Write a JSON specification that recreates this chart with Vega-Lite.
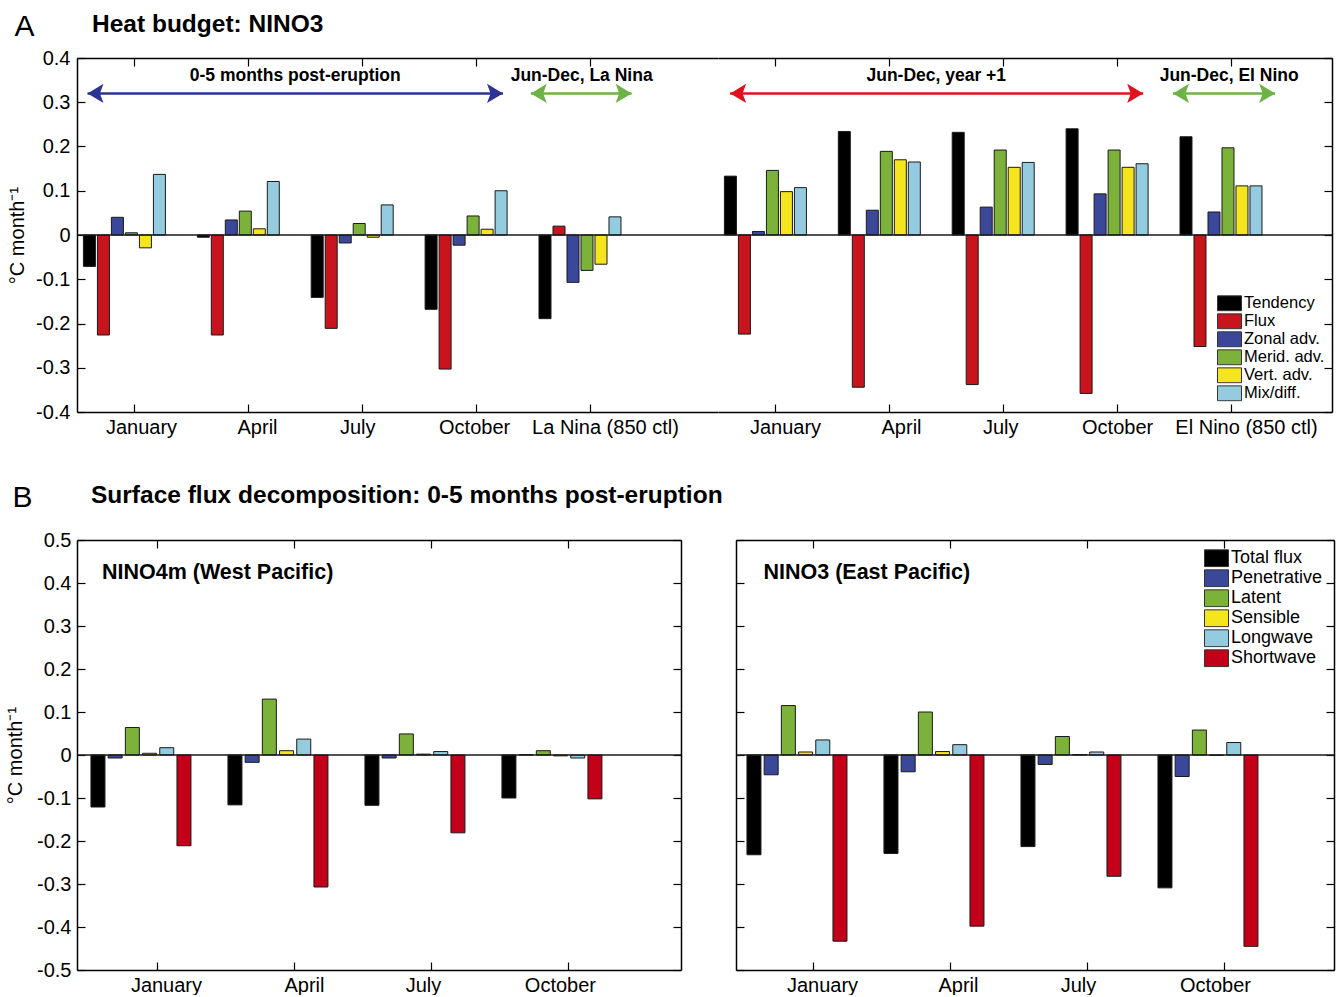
{
  "$schema": "https://vega.github.io/schema/vega-lite/v6.json",
  "background": "white",
  "padding": {"left": 5, "top": 11, "right": 5, "bottom": 0},
  "config": {
    "font": "Liberation Sans",
    "view": {"stroke": null},
    "axis": {
      "labelFont": "Liberation Sans", "labelFontSize": 20, "labelColor": "#000",
      "domainColor": "#000", "domainWidth": 1.5, "tickColor": "#000", "tickWidth": 1.2,
      "tickSize": -8, "labelPadding": 13, "grid": false, "minExtent": 0,
      "titleFont": "Liberation Sans", "titleFontSize": 20, "titleFontWeight": "normal", "titleColor": "#000",
      "labelAngle": 0, "labelOverlap": false
    },
    "title": {"font": "Liberation Sans", "color": "#000"},
    "legend": {"labelFont": "Liberation Sans", "labelColor": "#000", "padding": 0}
  },
  "datasets": {
    "heat": [
      {"period": "post", "month": "January", "term": "Tendency", "value": -0.071},
      {"period": "post", "month": "January", "term": "Flux", "value": -0.226},
      {"period": "post", "month": "January", "term": "Zonal adv.", "value": 0.040},
      {"period": "post", "month": "January", "term": "Merid. adv.", "value": 0.005},
      {"period": "post", "month": "January", "term": "Vert. adv.", "value": -0.029},
      {"period": "post", "month": "January", "term": "Mix/diff.", "value": 0.137},
      {"period": "post", "month": "April", "term": "Tendency", "value": -0.005},
      {"period": "post", "month": "April", "term": "Flux", "value": -0.226},
      {"period": "post", "month": "April", "term": "Zonal adv.", "value": 0.034},
      {"period": "post", "month": "April", "term": "Merid. adv.", "value": 0.054},
      {"period": "post", "month": "April", "term": "Vert. adv.", "value": 0.014},
      {"period": "post", "month": "April", "term": "Mix/diff.", "value": 0.121},
      {"period": "post", "month": "July", "term": "Tendency", "value": -0.141},
      {"period": "post", "month": "July", "term": "Flux", "value": -0.211},
      {"period": "post", "month": "July", "term": "Zonal adv.", "value": -0.018},
      {"period": "post", "month": "July", "term": "Merid. adv.", "value": 0.026},
      {"period": "post", "month": "July", "term": "Vert. adv.", "value": -0.005},
      {"period": "post", "month": "July", "term": "Mix/diff.", "value": 0.068},
      {"period": "post", "month": "October", "term": "Tendency", "value": -0.168},
      {"period": "post", "month": "October", "term": "Flux", "value": -0.303},
      {"period": "post", "month": "October", "term": "Zonal adv.", "value": -0.023},
      {"period": "post", "month": "October", "term": "Merid. adv.", "value": 0.043},
      {"period": "post", "month": "October", "term": "Vert. adv.", "value": 0.013},
      {"period": "post", "month": "October", "term": "Mix/diff.", "value": 0.100},
      {"period": "post", "month": "La Nina (850 ctl)", "term": "Tendency", "value": -0.189},
      {"period": "post", "month": "La Nina (850 ctl)", "term": "Flux", "value": 0.020},
      {"period": "post", "month": "La Nina (850 ctl)", "term": "Zonal adv.", "value": -0.107},
      {"period": "post", "month": "La Nina (850 ctl)", "term": "Merid. adv.", "value": -0.080},
      {"period": "post", "month": "La Nina (850 ctl)", "term": "Vert. adv.", "value": -0.066},
      {"period": "post", "month": "La Nina (850 ctl)", "term": "Mix/diff.", "value": 0.041},
      {"period": "year1", "month": "January", "term": "Tendency", "value": 0.133},
      {"period": "year1", "month": "January", "term": "Flux", "value": -0.224},
      {"period": "year1", "month": "January", "term": "Zonal adv.", "value": 0.008},
      {"period": "year1", "month": "January", "term": "Merid. adv.", "value": 0.146},
      {"period": "year1", "month": "January", "term": "Vert. adv.", "value": 0.098},
      {"period": "year1", "month": "January", "term": "Mix/diff.", "value": 0.107},
      {"period": "year1", "month": "April", "term": "Tendency", "value": 0.234},
      {"period": "year1", "month": "April", "term": "Flux", "value": -0.344},
      {"period": "year1", "month": "April", "term": "Zonal adv.", "value": 0.056},
      {"period": "year1", "month": "April", "term": "Merid. adv.", "value": 0.189},
      {"period": "year1", "month": "April", "term": "Vert. adv.", "value": 0.170},
      {"period": "year1", "month": "April", "term": "Mix/diff.", "value": 0.165},
      {"period": "year1", "month": "July", "term": "Tendency", "value": 0.232},
      {"period": "year1", "month": "July", "term": "Flux", "value": -0.338},
      {"period": "year1", "month": "July", "term": "Zonal adv.", "value": 0.063},
      {"period": "year1", "month": "July", "term": "Merid. adv.", "value": 0.192},
      {"period": "year1", "month": "July", "term": "Vert. adv.", "value": 0.153},
      {"period": "year1", "month": "July", "term": "Mix/diff.", "value": 0.164},
      {"period": "year1", "month": "October", "term": "Tendency", "value": 0.240},
      {"period": "year1", "month": "October", "term": "Flux", "value": -0.358},
      {"period": "year1", "month": "October", "term": "Zonal adv.", "value": 0.093},
      {"period": "year1", "month": "October", "term": "Merid. adv.", "value": 0.192},
      {"period": "year1", "month": "October", "term": "Vert. adv.", "value": 0.153},
      {"period": "year1", "month": "October", "term": "Mix/diff.", "value": 0.161},
      {"period": "year1", "month": "El Nino (850 ctl)", "term": "Tendency", "value": 0.222},
      {"period": "year1", "month": "El Nino (850 ctl)", "term": "Flux", "value": -0.252},
      {"period": "year1", "month": "El Nino (850 ctl)", "term": "Zonal adv.", "value": 0.052},
      {"period": "year1", "month": "El Nino (850 ctl)", "term": "Merid. adv.", "value": 0.197},
      {"period": "year1", "month": "El Nino (850 ctl)", "term": "Vert. adv.", "value": 0.111},
      {"period": "year1", "month": "El Nino (850 ctl)", "term": "Mix/diff.", "value": 0.111}
    ],
    "flux": [
      {"region": "west", "month": "January", "comp": "Total flux", "value": -0.121},
      {"region": "west", "month": "January", "comp": "Penetrative", "value": -0.007},
      {"region": "west", "month": "January", "comp": "Latent", "value": 0.064},
      {"region": "west", "month": "January", "comp": "Sensible", "value": 0.004},
      {"region": "west", "month": "January", "comp": "Longwave", "value": 0.017},
      {"region": "west", "month": "January", "comp": "Shortwave", "value": -0.211},
      {"region": "west", "month": "April", "comp": "Total flux", "value": -0.116},
      {"region": "west", "month": "April", "comp": "Penetrative", "value": -0.017},
      {"region": "west", "month": "April", "comp": "Latent", "value": 0.130},
      {"region": "west", "month": "April", "comp": "Sensible", "value": 0.010},
      {"region": "west", "month": "April", "comp": "Longwave", "value": 0.037},
      {"region": "west", "month": "April", "comp": "Shortwave", "value": -0.307},
      {"region": "west", "month": "July", "comp": "Total flux", "value": -0.117},
      {"region": "west", "month": "July", "comp": "Penetrative", "value": -0.007},
      {"region": "west", "month": "July", "comp": "Latent", "value": 0.049},
      {"region": "west", "month": "July", "comp": "Sensible", "value": 0.002},
      {"region": "west", "month": "July", "comp": "Longwave", "value": 0.008},
      {"region": "west", "month": "July", "comp": "Shortwave", "value": -0.181},
      {"region": "west", "month": "October", "comp": "Total flux", "value": -0.100},
      {"region": "west", "month": "October", "comp": "Penetrative", "value": 0.001},
      {"region": "west", "month": "October", "comp": "Latent", "value": 0.010},
      {"region": "west", "month": "October", "comp": "Sensible", "value": -0.002},
      {"region": "west", "month": "October", "comp": "Longwave", "value": -0.007},
      {"region": "west", "month": "October", "comp": "Shortwave", "value": -0.102},
      {"region": "east", "month": "January", "comp": "Total flux", "value": -0.232},
      {"region": "east", "month": "January", "comp": "Penetrative", "value": -0.046},
      {"region": "east", "month": "January", "comp": "Latent", "value": 0.115},
      {"region": "east", "month": "January", "comp": "Sensible", "value": 0.007},
      {"region": "east", "month": "January", "comp": "Longwave", "value": 0.035},
      {"region": "east", "month": "January", "comp": "Shortwave", "value": -0.433},
      {"region": "east", "month": "April", "comp": "Total flux", "value": -0.229},
      {"region": "east", "month": "April", "comp": "Penetrative", "value": -0.039},
      {"region": "east", "month": "April", "comp": "Latent", "value": 0.100},
      {"region": "east", "month": "April", "comp": "Sensible", "value": 0.008},
      {"region": "east", "month": "April", "comp": "Longwave", "value": 0.024},
      {"region": "east", "month": "April", "comp": "Shortwave", "value": -0.398},
      {"region": "east", "month": "July", "comp": "Total flux", "value": -0.213},
      {"region": "east", "month": "July", "comp": "Penetrative", "value": -0.022},
      {"region": "east", "month": "July", "comp": "Latent", "value": 0.043},
      {"region": "east", "month": "July", "comp": "Sensible", "value": 0.001},
      {"region": "east", "month": "July", "comp": "Longwave", "value": 0.007},
      {"region": "east", "month": "July", "comp": "Shortwave", "value": -0.282},
      {"region": "east", "month": "October", "comp": "Total flux", "value": -0.309},
      {"region": "east", "month": "October", "comp": "Penetrative", "value": -0.050},
      {"region": "east", "month": "October", "comp": "Latent", "value": 0.058},
      {"region": "east", "month": "October", "comp": "Sensible", "value": -0.001},
      {"region": "east", "month": "October", "comp": "Longwave", "value": 0.029},
      {"region": "east", "month": "October", "comp": "Shortwave", "value": -0.445}
    ],
    "arrows": [
      {"side": "left", "name": "post", "from": "January", "to": "October"},
      {"side": "left", "name": "lanina", "from": "La Nina (850 ctl)", "to": "La Nina (850 ctl)"},
      {"side": "right", "name": "year1", "from": "January", "to": "October"},
      {"side": "right", "name": "elnino", "from": "El Nino (850 ctl)", "to": "El Nino (850 ctl)"}
    ]
  },
  "spacing": 45,
  "resolve": {"scale": {"x": "independent", "y": "independent", "color": "independent", "stroke": "independent", "fill": "independent", "xOffset": "independent"}, "legend": {"color": "independent"}},
  "vconcat": [
    {
      "title": {"text": "A", "orient": "left", "anchor": "end", "frame": "bounds", "angle": 0, "align": "left", "baseline": "top", "fontSize": 30, "fontWeight": "normal", "offset": -27},
      "bounds": "flush",
      "spacing": 0,
      "resolve": {"scale": {"x": "independent", "y": "independent", "color": "independent", "stroke": "independent", "fill": "independent", "xOffset": "independent"}, "legend": {"color": "independent"}},
      "hconcat": [
        {
          "width": 641, "height": 354,
          "title": {"text": "Heat budget: NINO3", "anchor": "start", "frame": "group", "fontSize": 24.5, "fontWeight": "bold", "baseline": "alphabetic", "offset": -8, "dx": 15},
          "data": {"name": "heat"},
          "transform": [{"filter": "datum.period == 'post'"}],
          "resolve": {"axis": {"x": "independent", "y": "independent"}},
          "layer": [
            {
              "mark": {"type": "bar", "stroke": "#1a1a1a", "strokeWidth": 1},
              "encoding": {
                "x": {"field": "month", "type": "nominal", "scale": {"domain": ["January", "April", "July", "October", "La Nina (850 ctl)"], "paddingInner": 0.28, "paddingOuter": 0.454, "align": 0.062}, "axis": {"orient": "bottom", "title": null, "tickOffset": 10, "labelOffset": {"condition": [{"test": "datum.label == 'January'", "value": 6.6}, {"test": "datum.label == 'April'", "value": 8.7}, {"test": "datum.label == 'July'", "value": -5}, {"test": "datum.label == 'October'", "value": -2}], "value": 15}}},
                "xOffset": {"field": "term", "type": "nominal", "scale": {"domain": ["Tendency", "Flux", "Zonal adv.", "Merid. adv.", "Vert. adv.", "Mix/diff."], "paddingInner": 0.143, "paddingOuter": 0}},
                "y": {"field": "value", "type": "quantitative", "scale": {"domain": [-0.4, 0.4], "nice": false, "zero": false}, "axis": {"orient": "left", "values": [-0.4, -0.3, -0.2, -0.1, 0, 0.1, 0.2, 0.3, 0.4], "labelExpr": "datum.value == 0 ? '0' : (datum.value < 0 ? '-' : '') + format(abs(datum.value), '.1f')", "labelPadding": 15, "title": "°C month⁻¹", "titlePadding": 8}},
                "color": {"field": "term", "type": "nominal", "scale": {"domain": ["Tendency", "Flux", "Zonal adv.", "Merid. adv.", "Vert. adv.", "Mix/diff."], "range": ["#000000", "#c8141c", "#3b4799", "#7cb23a", "#f5e51f", "#94cbdf"]}, "legend": null}
              }
            },
            {
              "data": {"values": [{}]},
              "mark": {"type": "rule", "color": "#1a1a1a", "strokeWidth": 1.5},
              "encoding": {"y": {"datum": 0, "type": "quantitative", "axis": null}}
            },
            {
              "data": {"name": "arrows"},
              "transform": [{"filter": "datum.name == 'post'"}],
              "mark": {"type": "rule", "strokeWidth": 2.5},
              "encoding": {
                "x": {"field": "from", "type": "nominal", "bandPosition": 0.05, "scale": {"domain": ["January", "April", "July", "October", "La Nina (850 ctl)"], "paddingInner": 0.28, "paddingOuter": 0.454, "align": 0.062}, "axis": {"orient": "top", "labels": false, "labelPadding": 0, "minExtent": 0, "title": null, "tickOffset": 10}},
                "x2": {"field": "to", "bandPosition": 0.95},
                "y": {"datum": 0.32, "type": "quantitative", "axis": null},
                "stroke": {"field": "name", "type": "nominal", "scale": {"domain": ["post", "lanina"], "range": ["#2d3392", "#6cb245"]}, "legend": null}
              }
            },
            {
              "data": {"name": "arrows"},
              "transform": [{"filter": "datum.name == 'post'"}],
              "mark": {"type": "point", "filled": true, "opacity": 1, "size": 256, "strokeWidth": 0, "shape": "M0,0L2,-1.2L1.55,0L2,1.2Z"},
              "encoding": {
                "x": {"field": "from", "type": "nominal", "bandPosition": 0.05, "axis": null},
                "y": {"datum": 0.32, "type": "quantitative", "axis": null},
                "fill": {"field": "name", "type": "nominal", "scale": {"domain": ["post", "lanina"], "range": ["#2d3392", "#6cb245"]}, "legend": null}
              }
            },
            {
              "data": {"name": "arrows"},
              "transform": [{"filter": "datum.name == 'post'"}],
              "mark": {"type": "point", "filled": true, "opacity": 1, "size": 256, "strokeWidth": 0, "shape": "M0,0L-2,-1.2L-1.55,0L-2,1.2Z"},
              "encoding": {
                "x": {"field": "to", "type": "nominal", "bandPosition": 0.95, "axis": null},
                "y": {"datum": 0.32, "type": "quantitative", "axis": null},
                "fill": {"field": "name", "type": "nominal", "scale": {"domain": ["post", "lanina"], "range": ["#2d3392", "#6cb245"]}, "legend": null}
              }
            },
            {
              "data": {"name": "arrows"},
              "transform": [{"filter": "datum.name == 'lanina'"}],
              "mark": {"type": "rule", "strokeWidth": 2.5},
              "encoding": {
                "x": {"field": "from", "type": "nominal", "bandPosition": -0.1, "axis": null},
                "x2": {"field": "to", "bandPosition": 1.13},
                "y": {"datum": 0.32, "type": "quantitative", "axis": null},
                "stroke": {"field": "name", "type": "nominal", "scale": {"domain": ["post", "lanina"], "range": ["#2d3392", "#6cb245"]}, "legend": null}
              }
            },
            {
              "data": {"name": "arrows"},
              "transform": [{"filter": "datum.name == 'lanina'"}],
              "mark": {"type": "point", "filled": true, "opacity": 1, "size": 256, "strokeWidth": 0, "shape": "M0,0L2,-1.2L1.55,0L2,1.2Z"},
              "encoding": {
                "x": {"field": "from", "type": "nominal", "bandPosition": -0.1, "axis": null},
                "y": {"datum": 0.32, "type": "quantitative", "axis": null},
                "fill": {"field": "name", "type": "nominal", "scale": {"domain": ["post", "lanina"], "range": ["#2d3392", "#6cb245"]}, "legend": null}
              }
            },
            {
              "data": {"name": "arrows"},
              "transform": [{"filter": "datum.name == 'lanina'"}],
              "mark": {"type": "point", "filled": true, "opacity": 1, "size": 256, "strokeWidth": 0, "shape": "M0,0L-2,-1.2L-1.55,0L-2,1.2Z"},
              "encoding": {
                "x": {"field": "to", "type": "nominal", "bandPosition": 1.13, "axis": null},
                "y": {"datum": 0.32, "type": "quantitative", "axis": null},
                "fill": {"field": "name", "type": "nominal", "scale": {"domain": ["post", "lanina"], "range": ["#2d3392", "#6cb245"]}, "legend": null}
              }
            },
            {
              "data": {"values": [{"label": "0-5 months post-eruption"}]},
              "mark": {"type": "text", "fontWeight": "bold", "fontSize": 17.5, "baseline": "middle", "align": "center", "color": "#000"},
              "encoding": {
                "x": {"datum": "April", "type": "nominal", "bandPosition": 1.1945, "axis": null},
                "y": {"datum": 0.36, "type": "quantitative", "axis": null},
                "text": {"field": "label"}
              }
            },
            {
              "data": {"values": [{"label": "Jun-Dec, La Nina"}]},
              "mark": {"type": "text", "fontWeight": "bold", "fontSize": 17.5, "baseline": "middle", "align": "center", "color": "#000"},
              "encoding": {
                "x": {"datum": "La Nina (850 ctl)", "type": "nominal", "bandPosition": 0.52, "axis": null},
                "y": {"datum": 0.36, "type": "quantitative", "axis": null},
                "text": {"field": "label"}
              }
            }
          ]
        },
        {
          "width": 614, "height": 354,
          "data": {"name": "heat"},
          "transform": [{"filter": "datum.period == 'year1'"}],
          "resolve": {"axis": {"x": "independent", "y": "independent"}},
          "layer": [
            {
              "mark": {"type": "bar", "stroke": "#1a1a1a", "strokeWidth": 1},
              "encoding": {
                "x": {"field": "month", "type": "nominal", "scale": {"domain": ["January", "April", "July", "October", "El Nino (850 ctl)"], "paddingInner": 0.28, "paddingOuter": 0.3355, "align": 0.084}, "axis": {"orient": "bottom", "title": null, "tickOffset": 10, "labelOffset": {"condition": [{"test": "datum.label == 'January'", "value": 9.6}, {"test": "datum.label == 'April'", "value": 11.7}, {"test": "datum.label == 'July'", "value": -3}, {"test": "datum.label == 'October'", "value": 0}], "value": 15}}},
                "xOffset": {"field": "term", "type": "nominal", "scale": {"domain": ["Tendency", "Flux", "Zonal adv.", "Merid. adv.", "Vert. adv.", "Mix/diff."], "paddingInner": 0.143, "paddingOuter": 0}},
                "y": {"field": "value", "type": "quantitative", "scale": {"domain": [-0.4, 0.4], "nice": false, "zero": false}, "axis": {"orient": "right", "values": [-0.4, -0.3, -0.2, -0.1, 0, 0.1, 0.2, 0.3, 0.4], "labels": false, "labelPadding": 0, "title": null}},
                "color": {"field": "term", "type": "nominal", "scale": {"domain": ["Tendency", "Flux", "Zonal adv.", "Merid. adv.", "Vert. adv.", "Mix/diff."], "range": ["#000000", "#c8141c", "#3b4799", "#7cb23a", "#f5e51f", "#94cbdf"]},
                  "legend": {"orient": "none", "legendX": 499, "legendY": 237, "title": null, "symbolType": "M-1,-0.62H1V0.62H-1Z", "symbolSize": 576, "labelFontSize": 16.5, "labelOffset": 2, "rowPadding": 1, "clipHeight": 16.6, "symbolStrokeColor": "#333", "symbolStrokeWidth": 1}}
              }
            },
            {
              "data": {"values": [{}]},
              "mark": {"type": "rule", "color": "#1a1a1a", "strokeWidth": 1.5},
              "encoding": {"y": {"datum": 0, "type": "quantitative", "axis": null}}
            },
            {
              "data": {"name": "arrows"},
              "transform": [{"filter": "datum.name == 'year1'"}],
              "mark": {"type": "rule", "strokeWidth": 2.5},
              "encoding": {
                "x": {"field": "from", "type": "nominal", "bandPosition": 0.07, "scale": {"domain": ["January", "April", "July", "October", "El Nino (850 ctl)"], "paddingInner": 0.28, "paddingOuter": 0.3355, "align": 0.084}, "axis": {"orient": "top", "labels": false, "labelPadding": 0, "minExtent": 0, "title": null, "tickOffset": 10}},
                "x2": {"field": "to", "bandPosition": 0.94},
                "y": {"datum": 0.32, "type": "quantitative", "axis": null},
                "stroke": {"field": "name", "type": "nominal", "scale": {"domain": ["year1", "elnino"], "range": ["#e0101e", "#6cb245"]}, "legend": null}
              }
            },
            {
              "data": {"name": "arrows"},
              "transform": [{"filter": "datum.name == 'year1'"}],
              "mark": {"type": "point", "filled": true, "opacity": 1, "size": 256, "strokeWidth": 0, "shape": "M0,0L2,-1.2L1.55,0L2,1.2Z"},
              "encoding": {
                "x": {"field": "from", "type": "nominal", "bandPosition": 0.07, "axis": null},
                "y": {"datum": 0.32, "type": "quantitative", "axis": null},
                "fill": {"field": "name", "type": "nominal", "scale": {"domain": ["year1", "elnino"], "range": ["#e0101e", "#6cb245"]}, "legend": null}
              }
            },
            {
              "data": {"name": "arrows"},
              "transform": [{"filter": "datum.name == 'year1'"}],
              "mark": {"type": "point", "filled": true, "opacity": 1, "size": 256, "strokeWidth": 0, "shape": "M0,0L-2,-1.2L-1.55,0L-2,1.2Z"},
              "encoding": {
                "x": {"field": "to", "type": "nominal", "bandPosition": 0.94, "axis": null},
                "y": {"datum": 0.32, "type": "quantitative", "axis": null},
                "fill": {"field": "name", "type": "nominal", "scale": {"domain": ["year1", "elnino"], "range": ["#e0101e", "#6cb245"]}, "legend": null}
              }
            },
            {
              "data": {"name": "arrows"},
              "transform": [{"filter": "datum.name == 'elnino'"}],
              "mark": {"type": "rule", "strokeWidth": 2.5},
              "encoding": {
                "x": {"field": "from", "type": "nominal", "bandPosition": -0.085, "axis": null},
                "x2": {"field": "to", "bandPosition": 1.16},
                "y": {"datum": 0.32, "type": "quantitative", "axis": null},
                "stroke": {"field": "name", "type": "nominal", "scale": {"domain": ["year1", "elnino"], "range": ["#e0101e", "#6cb245"]}, "legend": null}
              }
            },
            {
              "data": {"name": "arrows"},
              "transform": [{"filter": "datum.name == 'elnino'"}],
              "mark": {"type": "point", "filled": true, "opacity": 1, "size": 256, "strokeWidth": 0, "shape": "M0,0L2,-1.2L1.55,0L2,1.2Z"},
              "encoding": {
                "x": {"field": "from", "type": "nominal", "bandPosition": -0.085, "axis": null},
                "y": {"datum": 0.32, "type": "quantitative", "axis": null},
                "fill": {"field": "name", "type": "nominal", "scale": {"domain": ["year1", "elnino"], "range": ["#e0101e", "#6cb245"]}, "legend": null}
              }
            },
            {
              "data": {"name": "arrows"},
              "transform": [{"filter": "datum.name == 'elnino'"}],
              "mark": {"type": "point", "filled": true, "opacity": 1, "size": 256, "strokeWidth": 0, "shape": "M0,0L-2,-1.2L-1.55,0L-2,1.2Z"},
              "encoding": {
                "x": {"field": "to", "type": "nominal", "bandPosition": 1.16, "axis": null},
                "y": {"datum": 0.32, "type": "quantitative", "axis": null},
                "fill": {"field": "name", "type": "nominal", "scale": {"domain": ["year1", "elnino"], "range": ["#e0101e", "#6cb245"]}, "legend": null}
              }
            },
            {
              "data": {"values": [{"label": "Jun-Dec, year +1"}]},
              "mark": {"type": "text", "fontWeight": "bold", "fontSize": 17.5, "baseline": "middle", "align": "center", "color": "#000"},
              "encoding": {
                "x": {"datum": "April", "type": "nominal", "bandPosition": 1.1945, "axis": null},
                "y": {"datum": 0.36, "type": "quantitative", "axis": null},
                "text": {"field": "label"}
              }
            },
            {
              "data": {"values": [{"label": "Jun-Dec, El Nino"}]},
              "mark": {"type": "text", "fontWeight": "bold", "fontSize": 17.5, "baseline": "middle", "align": "center", "color": "#000"},
              "encoding": {
                "x": {"datum": "El Nino (850 ctl)", "type": "nominal", "bandPosition": 0.6, "axis": null},
                "y": {"datum": 0.36, "type": "quantitative", "axis": null},
                "text": {"field": "label"}
              }
            }
          ]
        }
      ]
    },
    {
      "title": {"text": "B", "orient": "left", "anchor": "end", "frame": "bounds", "angle": 0, "align": "left", "baseline": "top", "fontSize": 30, "fontWeight": "normal", "offset": -27},
      "bounds": "flush",
      "spacing": 55,
      "resolve": {"scale": {"x": "independent", "y": "independent", "color": "independent", "xOffset": "independent"}, "legend": {"color": "independent"}},
      "hconcat": [
        {
          "width": 604, "height": 430,
          "title": {"text": "Surface flux decomposition: 0-5 months post-eruption", "anchor": "start", "frame": "group", "fontSize": 24.5, "fontWeight": "bold", "baseline": "alphabetic", "offset": 3, "dx": 14},
          "data": {"name": "flux"},
          "transform": [{"filter": "datum.region == 'west'"}],
          "resolve": {"axis": {"x": "independent", "y": "independent"}},
          "layer": [
            {
              "mark": {"type": "bar", "stroke": "#1a1a1a", "strokeWidth": 1},
              "encoding": {
                "x": {"field": "month", "type": "nominal", "scale": {"domain": ["January", "April", "July", "October"], "paddingInner": 0.27, "paddingOuter": 0.3395, "align": 0.15}, "axis": {"orient": "bottom", "title": null, "tickOffset": 16, "labelOffset": {"condition": [{"test": "datum.label == 'January'", "value": 9}, {"test": "datum.label == 'April'", "value": 10}], "value": -8}}},
                "xOffset": {"field": "comp", "type": "nominal", "scale": {"domain": ["Total flux", "Penetrative", "Latent", "Sensible", "Longwave", "Shortwave"], "paddingInner": 0.186, "paddingOuter": 0}},
                "y": {"field": "value", "type": "quantitative", "scale": {"domain": [-0.5, 0.5], "nice": false, "zero": false}, "axis": {"orient": "left", "values": [-0.5, -0.4, -0.3, -0.2, -0.1, 0, 0.1, 0.2, 0.3, 0.4, 0.5], "labelExpr": "datum.value == 0 ? '0' : (datum.value < 0 ? '-' : '') + format(abs(datum.value), '.1f')", "labelPadding": 14, "title": "°C month⁻¹", "titlePadding": 11}},
                "color": {"field": "comp", "type": "nominal", "scale": {"domain": ["Total flux", "Penetrative", "Latent", "Sensible", "Longwave", "Shortwave"], "range": ["#000000", "#3b4799", "#7cb23a", "#f5e51f", "#94cbdf", "#c2001a"]}, "legend": null}
              }
            },
            {
              "data": {"values": [{}]},
              "mark": {"type": "rule", "color": "#1a1a1a", "strokeWidth": 1.5},
              "encoding": {"y": {"datum": 0, "type": "quantitative", "axis": {"orient": "right", "values": [-0.5, -0.4, -0.3, -0.2, -0.1, 0, 0.1, 0.2, 0.3, 0.4, 0.5], "labels": false, "labelPadding": 0, "title": null}}}
            },
            {
              "data": {"values": [{"label": "NINO4m (West Pacific)"}]},
              "mark": {"type": "text", "fontWeight": "bold", "fontSize": 21.5, "baseline": "middle", "align": "left", "color": "#000"},
              "encoding": {
                "x": {"datum": "January", "type": "nominal", "bandPosition": 0.11, "axis": {"orient": "top", "labels": false, "labelPadding": 0, "minExtent": 0, "title": null, "tickOffset": 16}},
                "y": {"datum": 0.423, "type": "quantitative", "axis": null},
                "text": {"field": "label"}
              }
            }
          ]
        },
        {
          "width": 598, "height": 430,
          "data": {"name": "flux"},
          "transform": [{"filter": "datum.region == 'east'"}],
          "resolve": {"axis": {"x": "independent", "y": "independent"}},
          "layer": [
            {
              "mark": {"type": "bar", "stroke": "#1a1a1a", "strokeWidth": 1},
              "encoding": {
                "x": {"field": "month", "type": "nominal", "scale": {"domain": ["January", "April", "July", "October"], "paddingInner": 0.27, "paddingOuter": 0.3175, "align": 0.126}, "axis": {"orient": "bottom", "title": null, "tickOffset": 16, "labelOffset": {"condition": [{"test": "datum.label == 'January'", "value": 9}, {"test": "datum.label == 'April'", "value": 8}], "value": -9}}},
                "xOffset": {"field": "comp", "type": "nominal", "scale": {"domain": ["Total flux", "Penetrative", "Latent", "Sensible", "Longwave", "Shortwave"], "paddingInner": 0.186, "paddingOuter": 0}},
                "y": {"field": "value", "type": "quantitative", "scale": {"domain": [-0.5, 0.5], "nice": false, "zero": false}, "axis": {"orient": "left", "values": [-0.5, -0.4, -0.3, -0.2, -0.1, 0, 0.1, 0.2, 0.3, 0.4, 0.5], "labels": false, "labelPadding": 0, "title": null}},
                "color": {"field": "comp", "type": "nominal", "scale": {"domain": ["Total flux", "Penetrative", "Latent", "Sensible", "Longwave", "Shortwave"], "range": ["#000000", "#3b4799", "#7cb23a", "#f5e51f", "#94cbdf", "#c2001a"]},
                  "legend": {"orient": "none", "legendX": 468, "legendY": 9, "title": null, "symbolType": "M-1,-0.7H1V0.7H-1Z", "symbolSize": 576, "labelFontSize": 18, "labelOffset": 2, "rowPadding": 1, "clipHeight": 18.5, "symbolStrokeColor": "#333", "symbolStrokeWidth": 1}}
              }
            },
            {
              "data": {"values": [{}]},
              "mark": {"type": "rule", "color": "#1a1a1a", "strokeWidth": 1.5},
              "encoding": {"y": {"datum": 0, "type": "quantitative", "axis": {"orient": "right", "values": [-0.5, -0.4, -0.3, -0.2, -0.1, 0, 0.1, 0.2, 0.3, 0.4, 0.5], "labels": false, "labelPadding": 0, "title": null}}}
            },
            {
              "data": {"values": [{"label": "NINO3 (East Pacific)"}]},
              "mark": {"type": "text", "fontWeight": "bold", "fontSize": 21.5, "baseline": "middle", "align": "left", "color": "#000"},
              "encoding": {
                "x": {"datum": "January", "type": "nominal", "bandPosition": 0.165, "axis": {"orient": "top", "labels": false, "labelPadding": 0, "minExtent": 0, "title": null, "tickOffset": 16}},
                "y": {"datum": 0.423, "type": "quantitative", "axis": null},
                "text": {"field": "label"}
              }
            }
          ]
        }
      ]
    }
  ]
}
